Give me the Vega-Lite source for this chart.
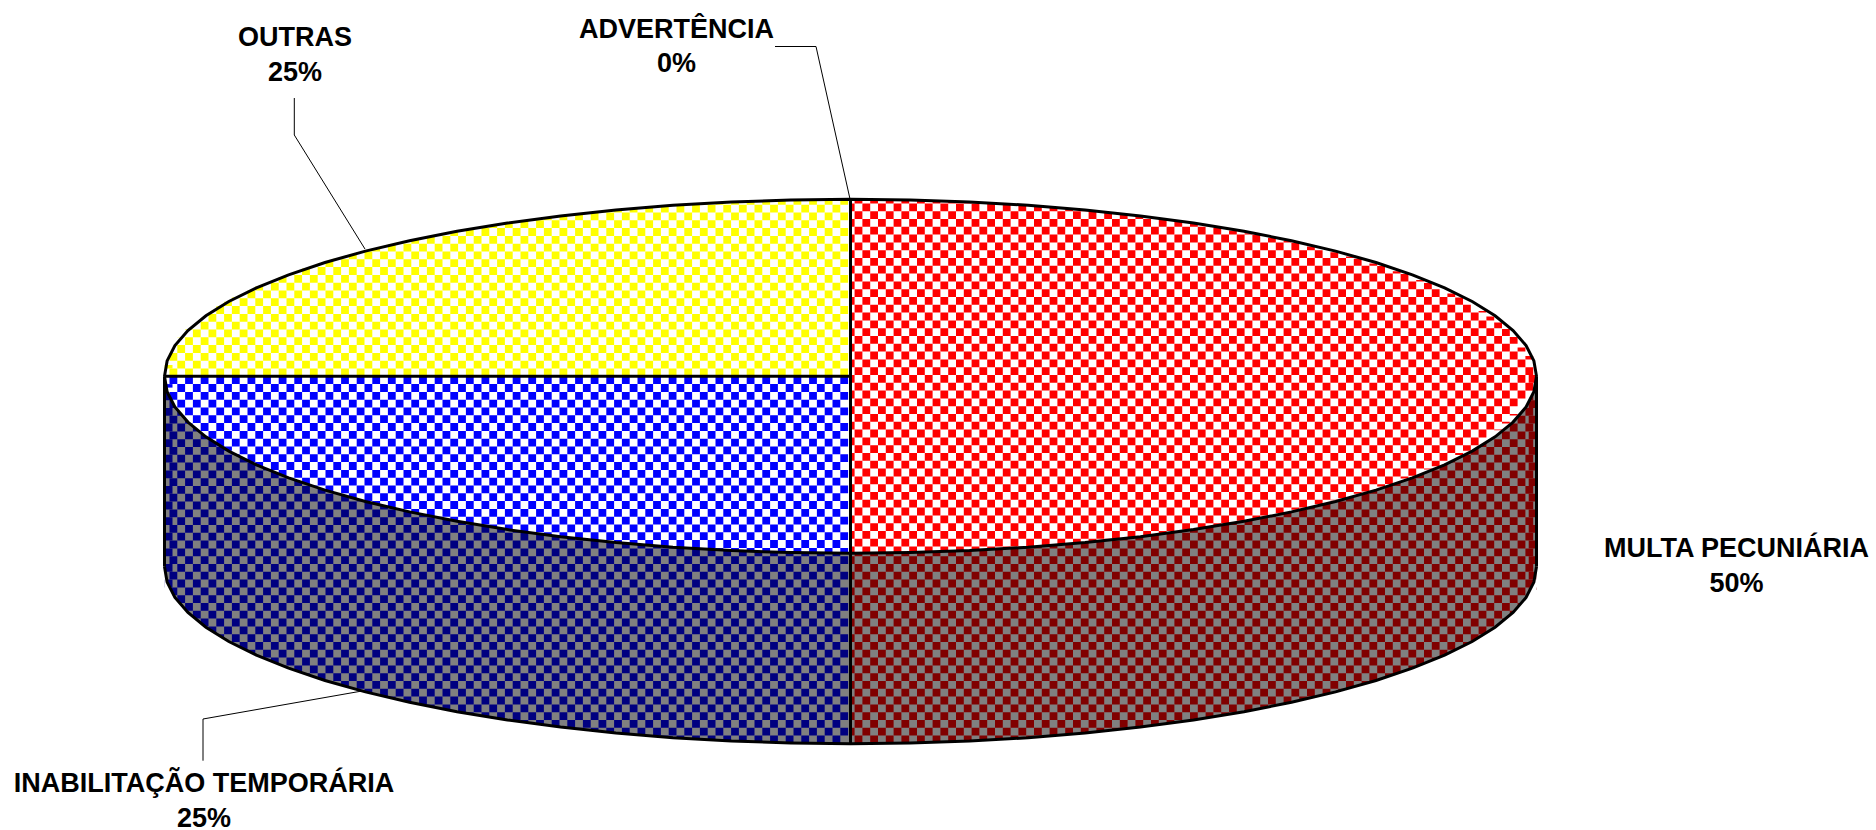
{"$schema":"https://vega.github.io/schema/vega-lite/v6.json","width":1876,"height":830,"padding":0,"autosize":{"type":"none"},"background":"#ffffff","config":{"view":{"stroke":null}},
"datasets":{
"elipse":[{"c":376.3,"f":830,"x":164.5,"up":376.3,"dn":376.3,"wall":566.7},{"c":376.3,"f":830,"x":167.1,"up":360.9,"dn":391.7,"wall":582.1},{"c":376.3,"f":830,"x":174.9,"up":345.6,"dn":407,"wall":597.4},{"c":376.3,"f":830,"x":187.9,"up":330.5,"dn":422.1,"wall":612.5},{"c":376.3,"f":830,"x":205.9,"up":315.8,"dn":436.8,"wall":627.2},{"c":376.3,"f":830,"x":228.8,"up":301.5,"dn":451.1,"wall":641.5},{"c":376.3,"f":830,"x":256.4,"up":287.8,"dn":464.8,"wall":655.2},{"c":376.3,"f":830,"x":288.6,"up":274.8,"dn":477.8,"wall":668.2},{"c":376.3,"f":830,"x":325,"up":262.5,"dn":490.1,"wall":680.5},{"c":376.3,"f":830,"x":365.4,"up":251.1,"dn":501.5,"wall":691.9},{"c":376.3,"f":830,"x":409.5,"up":240.7,"dn":511.9,"wall":702.3},{"c":376.3,"f":830,"x":457,"up":231.3,"dn":521.3,"wall":711.7},{"c":376.3,"f":830,"x":507.5,"up":223,"dn":529.6,"wall":720},{"c":376.3,"f":830,"x":560.6,"up":215.9,"dn":536.7,"wall":727.1},{"c":376.3,"f":830,"x":615.9,"up":210,"dn":542.6,"wall":733},{"c":376.3,"f":830,"x":672.9,"up":205.3,"dn":547.3,"wall":737.7},{"c":376.3,"f":830,"x":731.4,"up":202,"dn":550.6,"wall":741},{"c":376.3,"f":830,"x":790.7,"up":200,"dn":552.6,"wall":743},{"c":376.3,"f":830,"x":850.5,"up":199.3,"dn":553.3,"wall":743.7},{"c":376.3,"f":830,"x":910.3,"up":200,"dn":552.6,"wall":743},{"c":376.3,"f":830,"x":969.6,"up":202,"dn":550.6,"wall":741},{"c":376.3,"f":830,"x":1028.1,"up":205.3,"dn":547.3,"wall":737.7},{"c":376.3,"f":830,"x":1085.1,"up":210,"dn":542.6,"wall":733},{"c":376.3,"f":830,"x":1140.4,"up":215.9,"dn":536.7,"wall":727.1},{"c":376.3,"f":830,"x":1193.5,"up":223,"dn":529.6,"wall":720},{"c":376.3,"f":830,"x":1244,"up":231.3,"dn":521.3,"wall":711.7},{"c":376.3,"f":830,"x":1291.5,"up":240.7,"dn":511.9,"wall":702.3},{"c":376.3,"f":830,"x":1335.6,"up":251.1,"dn":501.5,"wall":691.9},{"c":376.3,"f":830,"x":1376,"up":262.5,"dn":490.1,"wall":680.5},{"c":376.3,"f":830,"x":1412.4,"up":274.8,"dn":477.8,"wall":668.2},{"c":376.3,"f":830,"x":1444.6,"up":287.8,"dn":464.8,"wall":655.2},{"c":376.3,"f":830,"x":1472.2,"up":301.5,"dn":451.1,"wall":641.5},{"c":376.3,"f":830,"x":1495.1,"up":315.8,"dn":436.8,"wall":627.2},{"c":376.3,"f":830,"x":1513.1,"up":330.5,"dn":422.1,"wall":612.5},{"c":376.3,"f":830,"x":1526.1,"up":345.6,"dn":407,"wall":597.4},{"c":376.3,"f":830,"x":1533.9,"up":360.9,"dn":391.7,"wall":582.1},{"c":376.3,"f":830,"x":1536.5,"up":376.3,"dn":376.3,"wall":566.7}],
"colunas":[{"c":376.3,"cr":375,"z":751.2,"xl":844.2,"xr":852.6,"t":199.3,"b":553.3,"p":0},{"c":376.3,"cr":375,"z":751.2,"xl":836.4,"xr":858.5,"t":199.3,"b":553.3,"p":1},{"c":376.3,"cr":375,"z":751.2,"xl":828.6,"xr":866.3,"t":199.4,"b":553.2,"p":0},{"c":376.3,"cr":375,"z":751.2,"xl":820.8,"xr":874.1,"t":199.5,"b":553.1,"p":1},{"c":376.3,"cr":375,"z":751.2,"xl":813,"xr":881.9,"t":199.6,"b":553,"p":0},{"c":376.3,"cr":375,"z":751.2,"xl":805.2,"xr":889.7,"t":199.7,"b":552.9,"p":1},{"c":376.3,"cr":375,"z":751.2,"xl":797.4,"xr":897.5,"t":199.8,"b":552.8,"p":0},{"c":376.3,"cr":375,"z":751.2,"xl":789.6,"xr":905.3,"t":200,"b":552.6,"p":1},{"c":376.3,"cr":375,"z":751.2,"xl":781.8,"xr":913.1,"t":200.2,"b":552.4,"p":0},{"c":376.3,"cr":375,"z":751.2,"xl":774,"xr":920.9,"t":200.4,"b":552.2,"p":1},{"c":376.3,"cr":375,"z":751.2,"xl":766.2,"xr":928.7,"t":200.6,"b":552,"p":0},{"c":376.3,"cr":375,"z":751.2,"xl":758.4,"xr":936.5,"t":200.9,"b":551.7,"p":1},{"c":376.3,"cr":375,"z":751.2,"xl":750.6,"xr":944.3,"t":201.2,"b":551.4,"p":0},{"c":376.3,"cr":375,"z":751.2,"xl":742.8,"xr":952.1,"t":201.5,"b":551.1,"p":1},{"c":376.3,"cr":375,"z":751.2,"xl":735,"xr":959.9,"t":201.8,"b":550.8,"p":0},{"c":376.3,"cr":375,"z":751.2,"xl":727.2,"xr":967.7,"t":202.2,"b":550.4,"p":1},{"c":376.3,"cr":375,"z":751.2,"xl":719.4,"xr":975.5,"t":202.5,"b":550.1,"p":0},{"c":376.3,"cr":375,"z":751.2,"xl":711.6,"xr":983.3,"t":203,"b":549.6,"p":1},{"c":376.3,"cr":375,"z":751.2,"xl":703.8,"xr":991.1,"t":203.4,"b":549.2,"p":0},{"c":376.3,"cr":375,"z":751.2,"xl":696,"xr":998.9,"t":203.8,"b":548.8,"p":1},{"c":376.3,"cr":375,"z":751.2,"xl":688.2,"xr":1006.7,"t":204.3,"b":548.3,"p":0},{"c":376.3,"cr":375,"z":751.2,"xl":680.4,"xr":1014.5,"t":204.8,"b":547.8,"p":1},{"c":376.3,"cr":375,"z":751.2,"xl":672.6,"xr":1022.3,"t":205.3,"b":547.3,"p":0},{"c":376.3,"cr":375,"z":751.2,"xl":664.8,"xr":1030.1,"t":205.9,"b":546.7,"p":1},{"c":376.3,"cr":375,"z":751.2,"xl":657,"xr":1037.9,"t":206.5,"b":546.1,"p":0},{"c":376.3,"cr":375,"z":751.2,"xl":649.2,"xr":1045.7,"t":207.1,"b":545.5,"p":1},{"c":376.3,"cr":375,"z":751.2,"xl":641.4,"xr":1053.5,"t":207.7,"b":544.9,"p":0},{"c":376.3,"cr":375,"z":751.2,"xl":633.6,"xr":1061.3,"t":208.4,"b":544.2,"p":1},{"c":376.3,"cr":375,"z":751.2,"xl":625.8,"xr":1069.1,"t":209,"b":543.6,"p":0},{"c":376.3,"cr":375,"z":751.2,"xl":618,"xr":1076.9,"t":209.8,"b":542.8,"p":1},{"c":376.3,"cr":375,"z":751.2,"xl":610.2,"xr":1084.7,"t":210.5,"b":542.1,"p":0},{"c":376.3,"cr":375,"z":751.2,"xl":602.4,"xr":1092.5,"t":211.3,"b":541.3,"p":1},{"c":376.3,"cr":375,"z":751.2,"xl":594.6,"xr":1100.3,"t":212,"b":540.6,"p":0},{"c":376.3,"cr":375,"z":751.2,"xl":586.8,"xr":1108.1,"t":212.9,"b":539.7,"p":1},{"c":376.3,"cr":375,"z":751.2,"xl":579,"xr":1115.9,"t":213.7,"b":538.9,"p":0},{"c":376.3,"cr":375,"z":751.2,"xl":571.2,"xr":1123.7,"t":214.6,"b":538,"p":1},{"c":376.3,"cr":375,"z":751.2,"xl":563.4,"xr":1131.5,"t":215.5,"b":537.1,"p":0},{"c":376.3,"cr":375,"z":751.2,"xl":555.6,"xr":1139.3,"t":216.5,"b":536.1,"p":1},{"c":376.3,"cr":375,"z":751.2,"xl":547.8,"xr":1147.1,"t":217.4,"b":535.2,"p":0},{"c":376.3,"cr":375,"z":751.2,"xl":540,"xr":1154.9,"t":218.4,"b":534.2,"p":1},{"c":376.3,"cr":375,"z":751.2,"xl":532.2,"xr":1162.7,"t":219.5,"b":533.1,"p":0},{"c":376.3,"cr":375,"z":751.2,"xl":524.4,"xr":1170.5,"t":220.5,"b":532.1,"p":1},{"c":376.3,"cr":375,"z":751.2,"xl":516.6,"xr":1178.3,"t":221.6,"b":531,"p":0},{"c":376.3,"cr":375,"z":751.2,"xl":508.8,"xr":1186.1,"t":222.8,"b":529.8,"p":1},{"c":376.3,"cr":375,"z":751.2,"xl":501,"xr":1193.9,"t":223.9,"b":528.7,"p":0},{"c":376.3,"cr":375,"z":751.2,"xl":493.2,"xr":1201.7,"t":225.2,"b":527.4,"p":1},{"c":376.3,"cr":375,"z":751.2,"xl":485.4,"xr":1209.5,"t":226.4,"b":526.2,"p":0},{"c":376.3,"cr":375,"z":751.2,"xl":477.6,"xr":1217.3,"t":227.7,"b":524.9,"p":1},{"c":376.3,"cr":375,"z":751.2,"xl":469.8,"xr":1225.1,"t":229,"b":523.6,"p":0},{"c":376.3,"cr":375,"z":751.2,"xl":462,"xr":1232.9,"t":230.4,"b":522.2,"p":1},{"c":376.3,"cr":375,"z":751.2,"xl":454.2,"xr":1240.7,"t":231.8,"b":520.8,"p":0},{"c":376.3,"cr":375,"z":751.2,"xl":446.4,"xr":1248.5,"t":233.2,"b":519.4,"p":1},{"c":376.3,"cr":375,"z":751.2,"xl":438.6,"xr":1256.3,"t":234.7,"b":517.9,"p":0},{"c":376.3,"cr":375,"z":751.2,"xl":430.8,"xr":1264.1,"t":236.2,"b":516.4,"p":1},{"c":376.3,"cr":375,"z":751.2,"xl":423,"xr":1271.9,"t":237.8,"b":514.8,"p":0},{"c":376.3,"cr":375,"z":751.2,"xl":415.2,"xr":1279.7,"t":239.4,"b":513.2,"p":1},{"c":376.3,"cr":375,"z":751.2,"xl":407.4,"xr":1287.5,"t":241.1,"b":511.5,"p":0},{"c":376.3,"cr":375,"z":751.2,"xl":399.6,"xr":1295.3,"t":242.8,"b":509.8,"p":1},{"c":376.3,"cr":375,"z":751.2,"xl":391.8,"xr":1303.1,"t":244.6,"b":508,"p":0},{"c":376.3,"cr":375,"z":751.2,"xl":384,"xr":1310.9,"t":246.5,"b":506.1,"p":1},{"c":376.3,"cr":375,"z":751.2,"xl":376.2,"xr":1318.7,"t":248.3,"b":504.3,"p":0},{"c":376.3,"cr":375,"z":751.2,"xl":368.4,"xr":1326.5,"t":250.3,"b":502.3,"p":1},{"c":376.3,"cr":375,"z":751.2,"xl":360.6,"xr":1334.3,"t":252.3,"b":500.3,"p":0},{"c":376.3,"cr":375,"z":751.2,"xl":352.8,"xr":1342.1,"t":254.4,"b":498.2,"p":1},{"c":376.3,"cr":375,"z":751.2,"xl":345,"xr":1349.9,"t":256.6,"b":496,"p":0},{"c":376.3,"cr":375,"z":751.2,"xl":337.2,"xr":1357.7,"t":258.8,"b":493.8,"p":1},{"c":376.3,"cr":375,"z":751.2,"xl":329.4,"xr":1365.5,"t":261.1,"b":491.5,"p":0},{"c":376.3,"cr":375,"z":751.2,"xl":321.6,"xr":1373.3,"t":263.5,"b":489.1,"p":1},{"c":376.3,"cr":375,"z":751.2,"xl":313.8,"xr":1381.1,"t":266,"b":486.6,"p":0},{"c":376.3,"cr":375,"z":751.2,"xl":306,"xr":1388.9,"t":268.5,"b":484.1,"p":1},{"c":376.3,"cr":375,"z":751.2,"xl":298.2,"xr":1396.7,"t":271.2,"b":481.4,"p":0},{"c":376.3,"cr":375,"z":751.2,"xl":290.4,"xr":1404.5,"t":274,"b":478.6,"p":1},{"c":376.3,"cr":375,"z":751.2,"xl":282.6,"xr":1412.3,"t":276.9,"b":475.7,"p":0},{"c":376.3,"cr":375,"z":751.2,"xl":274.8,"xr":1420.1,"t":279.9,"b":472.7,"p":1},{"c":376.3,"cr":375,"z":751.2,"xl":267,"xr":1427.9,"t":283.1,"b":469.5,"p":0},{"c":376.3,"cr":375,"z":751.2,"xl":259.2,"xr":1435.7,"t":286.4,"b":466.2,"p":1},{"c":376.3,"cr":375,"z":751.2,"xl":251.4,"xr":1443.5,"t":289.9,"b":462.7,"p":0},{"c":376.3,"cr":375,"z":751.2,"xl":243.6,"xr":1451.3,"t":293.6,"b":459,"p":1},{"c":376.3,"cr":375,"z":751.2,"xl":235.8,"xr":1459.1,"t":297.6,"b":455,"p":0},{"c":376.3,"cr":375,"z":751.2,"xl":228,"xr":1466.9,"t":301.8,"b":450.8,"p":1},{"c":376.3,"cr":375,"z":751.2,"xl":220.2,"xr":1474.7,"t":306.3,"b":446.3,"p":0},{"c":376.3,"cr":375,"z":751.2,"xl":212.4,"xr":1482.5,"t":311.1,"b":441.5,"p":1},{"c":376.3,"cr":375,"z":751.2,"xl":204.6,"xr":1490.3,"t":316.5,"b":436.1,"p":0},{"c":376.3,"cr":375,"z":751.2,"xl":196.8,"xr":1498.1,"t":322.4,"b":430.2,"p":1},{"c":376.3,"cr":375,"z":751.2,"xl":189,"xr":1505.9,"t":329.1,"b":423.5,"p":0},{"c":376.3,"cr":375,"z":751.2,"xl":181.2,"xr":1513.7,"t":337.1,"b":415.5,"p":1},{"c":376.3,"cr":375,"z":751.2,"xl":173.4,"xr":1521.5,"t":347.4,"b":405.2,"p":0},{"c":376.3,"cr":375,"z":751.2,"xl":168.6,"xr":null,"t":365,"b":387.6,"p":1},{"c":376.3,"cr":375,"z":751.2,"xl":null,"xr":1529.3,"t":356,"b":396,"p":1},{"c":376.3,"cr":375,"z":751.2,"xl":null,"xr":1532.6,"t":369,"b":383,"p":0}],
"segmentos":[{"tipo":"contorno","x":164.5,"y":376.3,"x2":164.5,"y2":566.7},{"tipo":"contorno","x":1536.5,"y":376.3,"x2":1536.5,"y2":566.7},{"tipo":"contorno","x":850.5,"y":199.3,"x2":850.5,"y2":743.7},{"tipo":"contorno","x":164.5,"y":376.3,"x2":850.5,"y2":376.3},{"tipo":"mascara","x":164.5,"y":590,"x2":164.5,"y2":765},{"tipo":"mascara","x":1536.5,"y":590,"x2":1536.5,"y2":765},{"tipo":"lider","x":294.3,"y":98,"x2":294.3,"y2":135},{"tipo":"lider","x":294.3,"y":135,"x2":365,"y2":249},{"tipo":"lider","x":775,"y":46.5,"x2":816,"y2":46.5},{"tipo":"lider","x":816,"y":46.5,"x2":850,"y2":199},{"tipo":"lider","x":362,"y":691,"x2":203,"y2":719},{"tipo":"lider","x":203,"y":719,"x2":203,"y2":760.7}],
"rotulos":[{"texto":"ADVERTÊNCIA","x":676.6,"y":37.5},{"texto":"0%","x":676.6,"y":72},{"texto":"OUTRAS","x":295,"y":46},{"texto":"25%","x":295,"y":81},{"texto":"MULTA PECUNIÁRIA","x":1736.5,"y":556.7},{"texto":"50%","x":1736.5,"y":591.7},{"texto":"INABILITAÇÃO TEMPORÁRIA","x":204,"y":791.7},{"texto":"25%","x":204,"y":826.7}]},
"layer":[
{"data":{"name":"elipse"},"mark":{"type":"area","fill":"#808080"},"encoding":{"x":{"field":"x","type":"quantitative","scale":{"domain":[0,1876]},"axis":null},"y":{"field":"c","type":"quantitative","scale":{"domain":[830,0]},"axis":null},"y2":{"field":"wall"}}},
{"data":{"name":"colunas"},"transform":[{"fold":["xl","xr"]},{"filter":"datum.p==0 && datum.value!=852.6"}],"mark":{"type":"rule","strokeWidth":7.8,"strokeDash":[7.8,7.8]},"encoding":{"x":{"field":"value","type":"quantitative","scale":{"domain":[0,1876]},"axis":null},"y":{"field":"z","type":"quantitative","scale":{"domain":[830,0]},"axis":null},"y2":{"field":"c"},"color":{"condition":{"test":"datum.key=='xl'","value":"#000080"},"value":"#800000"}}},
{"data":{"name":"colunas"},"transform":[{"filter":"datum.xr==852.6"}],"mark":{"type":"rule","color":"#800000","strokeWidth":4,"strokeDash":[7.8,7.8]},"encoding":{"x":{"field":"xr","type":"quantitative","scale":{"domain":[0,1876]},"axis":null},"y":{"field":"z","type":"quantitative","scale":{"domain":[830,0]},"axis":null},"y2":{"field":"c"}}},
{"data":{"name":"colunas"},"transform":[{"fold":["xl","xr"]},{"filter":"datum.p==1"}],"mark":{"type":"rule","strokeWidth":7.8,"strokeDash":[7.8,7.8],"strokeDashOffset":7.8},"encoding":{"x":{"field":"value","type":"quantitative","scale":{"domain":[0,1876]},"axis":null},"y":{"field":"z","type":"quantitative","scale":{"domain":[830,0]},"axis":null},"y2":{"field":"c"},"color":{"condition":{"test":"datum.key=='xl'","value":"#000080"},"value":"#800000"}}},
{"data":{"name":"elipse"},"mark":{"type":"area","fill":"#ffffff"},"encoding":{"x":{"field":"x","type":"quantitative","scale":{"domain":[0,1876]},"axis":null},"y":{"field":"wall","type":"quantitative","scale":{"domain":[830,0]},"axis":null},"y2":{"field":"f"}}},
{"data":{"name":"segmentos"},"transform":[{"filter":"datum.tipo=='mascara'"}],"mark":{"type":"rule","color":"#ffffff","strokeWidth":4},"encoding":{"x":{"field":"x","type":"quantitative","scale":{"domain":[0,1876]},"axis":null},"y":{"field":"y","type":"quantitative","scale":{"domain":[830,0]},"axis":null},"x2":{"field":"x2"},"y2":{"field":"y2"}}},
{"data":{"name":"elipse"},"mark":{"type":"area","fill":"#ffffff"},"encoding":{"x":{"field":"x","type":"quantitative","scale":{"domain":[0,1876]},"axis":null},"y":{"field":"up","type":"quantitative","scale":{"domain":[830,0]},"axis":null},"y2":{"field":"dn"}}},
{"data":{"name":"colunas"},"transform":[{"filter":"datum.p==0"}],"mark":{"type":"rule","color":"#ffff00","strokeWidth":7.8,"strokeDash":[7.8,7.8]},"encoding":{"x":{"field":"xl","type":"quantitative","scale":{"domain":[0,1876]},"axis":null},"y":{"field":"c","type":"quantitative","scale":{"domain":[830,0]},"axis":null},"y2":{"field":"t"}}},
{"data":{"name":"colunas"},"transform":[{"filter":"datum.p==1"}],"mark":{"type":"rule","color":"#ffff00","strokeWidth":7.8,"strokeDash":[7.8,7.8],"strokeDashOffset":7.8},"encoding":{"x":{"field":"xl","type":"quantitative","scale":{"domain":[0,1876]},"axis":null},"y":{"field":"c","type":"quantitative","scale":{"domain":[830,0]},"axis":null},"y2":{"field":"t"}}},
{"data":{"name":"colunas"},"transform":[{"filter":"datum.p==0"}],"mark":{"type":"rule","color":"#0000ff","strokeWidth":7.8,"strokeDash":[7.8,7.8]},"encoding":{"x":{"field":"xl","type":"quantitative","scale":{"domain":[0,1876]},"axis":null},"y":{"field":"c","type":"quantitative","scale":{"domain":[830,0]},"axis":null},"y2":{"field":"b"}}},
{"data":{"name":"colunas"},"transform":[{"filter":"datum.p==1"}],"mark":{"type":"rule","color":"#0000ff","strokeWidth":7.8,"strokeDash":[7.8,7.8],"strokeDashOffset":7.8},"encoding":{"x":{"field":"xl","type":"quantitative","scale":{"domain":[0,1876]},"axis":null},"y":{"field":"c","type":"quantitative","scale":{"domain":[830,0]},"axis":null},"y2":{"field":"b"}}},
{"data":{"name":"colunas"},"transform":[{"filter":"datum.p==1"}],"mark":{"type":"rule","color":"#ff0000","strokeWidth":7.8,"strokeDash":[7.8,7.8]},"encoding":{"x":{"field":"xr","type":"quantitative","scale":{"domain":[0,1876]},"axis":null},"y":{"field":"cr","type":"quantitative","scale":{"domain":[830,0]},"axis":null},"y2":{"field":"t"}}},
{"data":{"name":"colunas"},"transform":[{"filter":"datum.p==0 && datum.xr!=852.6"}],"mark":{"type":"rule","color":"#ff0000","strokeWidth":7.8,"strokeDash":[7.8,7.8],"strokeDashOffset":7.8},"encoding":{"x":{"field":"xr","type":"quantitative","scale":{"domain":[0,1876]},"axis":null},"y":{"field":"cr","type":"quantitative","scale":{"domain":[830,0]},"axis":null},"y2":{"field":"t"}}},
{"data":{"name":"colunas"},"transform":[{"filter":"datum.xr==852.6"}],"mark":{"type":"rule","color":"#ff0000","strokeWidth":4,"strokeDash":[7.8,7.8],"strokeDashOffset":7.8},"encoding":{"x":{"field":"xr","type":"quantitative","scale":{"domain":[0,1876]},"axis":null},"y":{"field":"cr","type":"quantitative","scale":{"domain":[830,0]},"axis":null},"y2":{"field":"t"}}},
{"data":{"name":"colunas"},"transform":[{"filter":"datum.p==0 && datum.xr!=852.6"}],"mark":{"type":"rule","color":"#ff0000","strokeWidth":7.8,"strokeDash":[7.8,7.8]},"encoding":{"x":{"field":"xr","type":"quantitative","scale":{"domain":[0,1876]},"axis":null},"y":{"field":"cr","type":"quantitative","scale":{"domain":[830,0]},"axis":null},"y2":{"field":"b"}}},
{"data":{"name":"colunas"},"transform":[{"filter":"datum.xr==852.6"}],"mark":{"type":"rule","color":"#ff0000","strokeWidth":4,"strokeDash":[7.8,7.8]},"encoding":{"x":{"field":"xr","type":"quantitative","scale":{"domain":[0,1876]},"axis":null},"y":{"field":"cr","type":"quantitative","scale":{"domain":[830,0]},"axis":null},"y2":{"field":"b"}}},
{"data":{"name":"colunas"},"transform":[{"filter":"datum.p==1"}],"mark":{"type":"rule","color":"#ff0000","strokeWidth":7.8,"strokeDash":[7.8,7.8],"strokeDashOffset":7.8},"encoding":{"x":{"field":"xr","type":"quantitative","scale":{"domain":[0,1876]},"axis":null},"y":{"field":"cr","type":"quantitative","scale":{"domain":[830,0]},"axis":null},"y2":{"field":"b"}}},
{"data":{"name":"elipse"},"mark":{"type":"line","color":"#000000","strokeWidth":3},"encoding":{"x":{"field":"x","type":"quantitative","scale":{"domain":[0,1876]},"axis":null},"y":{"field":"up","type":"quantitative","scale":{"domain":[830,0]},"axis":null}}},
{"data":{"name":"elipse"},"mark":{"type":"line","color":"#000000","strokeWidth":3},"encoding":{"x":{"field":"x","type":"quantitative","scale":{"domain":[0,1876]},"axis":null},"y":{"field":"dn","type":"quantitative","scale":{"domain":[830,0]},"axis":null}}},
{"data":{"name":"elipse"},"mark":{"type":"line","color":"#000000","strokeWidth":3},"encoding":{"x":{"field":"x","type":"quantitative","scale":{"domain":[0,1876]},"axis":null},"y":{"field":"wall","type":"quantitative","scale":{"domain":[830,0]},"axis":null}}},
{"data":{"name":"segmentos"},"transform":[{"filter":"datum.tipo=='contorno'"}],"mark":{"type":"rule","color":"#000000","strokeWidth":3},"encoding":{"x":{"field":"x","type":"quantitative","scale":{"domain":[0,1876]},"axis":null},"y":{"field":"y","type":"quantitative","scale":{"domain":[830,0]},"axis":null},"x2":{"field":"x2"},"y2":{"field":"y2"}}},
{"data":{"name":"segmentos"},"transform":[{"filter":"datum.tipo=='lider'"}],"mark":{"type":"rule","color":"#000000","strokeWidth":1},"encoding":{"x":{"field":"x","type":"quantitative","scale":{"domain":[0,1876]},"axis":null},"y":{"field":"y","type":"quantitative","scale":{"domain":[830,0]},"axis":null},"x2":{"field":"x2"},"y2":{"field":"y2"}}},
{"data":{"name":"rotulos"},"mark":{"type":"text","font":"Liberation Sans","fontWeight":"bold","fontSize":27,"align":"center","baseline":"alphabetic","color":"#000000"},"encoding":{"x":{"field":"x","type":"quantitative","scale":{"domain":[0,1876]},"axis":null},"y":{"field":"y","type":"quantitative","scale":{"domain":[830,0]},"axis":null},"text":{"field":"texto"}}}
]}
